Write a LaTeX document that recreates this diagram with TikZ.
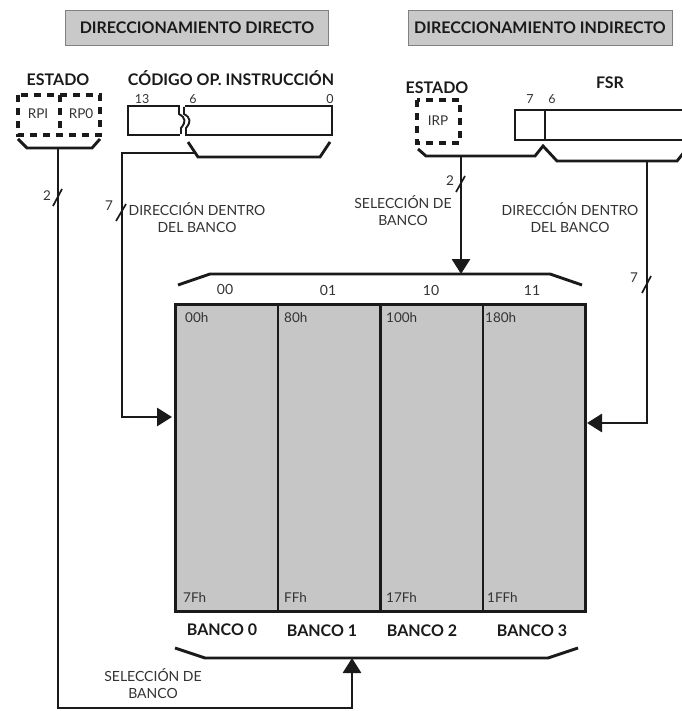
\documentclass[tikz,border=0pt]{standalone}
\usepackage{fontspec}
\setmainfont{Lato}
\usetikzlibrary{arrows.meta}
\definecolor{cellgray}{HTML}{C6C6C6}
\definecolor{titlegray}{HTML}{C9C9C9}
\definecolor{ink}{HTML}{1A1A1A}
\definecolor{soft}{HTML}{333333}
\begin{document}
\begin{tikzpicture}[x=1pt,y=-1pt,
  wire/.style={line width=2.9pt, draw=ink, line join=miter},
  arr/.style={wire,-{Triangle[length=15pt,width=18pt]}},
  tick/.style={line width=1.7pt, draw=ink},
  dbox/.style={line width=3.2pt, draw=ink, dash pattern=on 7pt off 6pt},
  titlebox/.style={draw=gray, line width=0.6pt, fill=titlegray, minimum height=35pt, inner sep=0pt, text=ink, font=\bfseries\fontsize{16}{18}\selectfont},
  head/.style={text=ink, inner sep=0pt, font=\bfseries\fontsize{16}{18}\selectfont},
  lab/.style={text=soft, inner sep=0pt, align=center, font=\fontsize{14}{17}\selectfont},
  small/.style={text=soft, inner sep=0pt, font=\fontsize{12.5}{14}\selectfont},
  reg/.style={text=soft, inner sep=0pt, font=\fontsize{13.5}{15}\selectfont},
  num/.style={text=soft, inner sep=0pt, font=\fontsize{14}{16}\selectfont},
  slashnum/.style={text=soft, inner sep=0pt, font=\fontsize{13.5}{15}\selectfont},
  addr/.style={text=soft, inner sep=0pt, anchor=west, font=\fontsize{13.5}{15}\selectfont},
  cell/.style={draw=ink, line width=2.9pt, fill=cellgray, minimum width=102.5pt, minimum height=307pt, anchor=north west, inner sep=0pt},
  bank/.style={text=ink, inner sep=0pt, font=\bfseries\fontsize{16}{18}\selectfont}
]
\useasboundingbox (0,0) rectangle (681,711);

% titles
\node[titlebox, minimum width=263pt] (t1) at (197,27.5) {DIRECCIONAMIENTO DIRECTO};
\node[titlebox, minimum width=264pt] (t2) at (540,27.5) {DIRECCIONAMIENTO INDIRECTO};

% ---- direct addressing ----
\node[head] (estado1) at (58,80) {ESTADO};
\draw[dbox] (18,95) rectangle (100,135);
\draw[dbox] (60,95) -- (60,135);
\node[reg] (rp1) at (38,114) {RPI};
\node[reg] (rp0) at (81,114) {RP0};
\draw[wire] (18,139) -- (27,148) -- (92,148) -- (100,139);
\coordinate (estL) at (58,148);

\node[head] (codigo) at (231,78) {CÓDIGO OP. INSTRUCCIÓN};
\node[small] (n13) at (142,99) {13};
\node[small] (n6a) at (193,99) {6};
\node[small] (n0) at (330,99) {0};
\draw[wire] (128,106) rectangle (332,135);
\fill[white] (180,104) rectangle (185,137);
\draw[tick, line width=1.9pt] (179,107) -- (179,114) .. controls (186,118) and (186,122) .. (181,128) -- (181,134);
\draw[tick, line width=1.9pt] (184,107) -- (184,114) .. controls (191,118) and (191,122) .. (186,128) -- (186,134);
\draw[wire] (188,142) -- (198,157) -- (320,157) -- (330,142);
\coordinate (opb) at (195,153);

% memory
\node[cell] (c0) at (174,303) {};
\node[cell] (c1) at (276.5,303) {};
\node[cell] (c2) at (379,303) {};
\node[cell] (c3) at (481.5,303) {};

\node[addr] (a00) at (185,318) {00h};
\node[addr] (a80) at (284,318) {80h};
\node[addr] (a100) at (386,318) {100h};
\node[addr] (a180) at (485,318) {180h};
\node[addr] (a7f) at (183,598) {7Fh};
\node[addr] (aff) at (284,598) {FFh};
\node[addr] (a17f) at (386,598) {17Fh};
\node[addr] (a1ff) at (487,598) {1FFh};

\node[num] (k00) at (225,289) {00};
\node[num] (k01) at (328,290) {01};
\node[num] (k10) at (431,290) {10};
\node[num] (k11) at (532,290) {11};

\node[bank] (b0) at (222,630) {BANCO 0};
\node[bank] (b1) at (322,631) {BANCO 1};
\node[bank] (b2) at (422,631) {BANCO 2};
\node[bank] (b3) at (532,631) {BANCO 3};

% top bracket
\draw[wire] (178,285) -- (210,274) -- (550,274) -- (582,285);
\coordinate (tbr) at (461,274);
% bottom bracket
\draw[wire] (175,648) -- (205,658) -- (548,658) -- (578,648);
\coordinate (bbr) at (352,658);

% left connectors
\coordinate (inL) at (172,417);
\draw[arr] (opb) -- (122,153) -- (122,417) -- (inL);
\draw[tick] (116,221) -- (126,204);
\node[slashnum] (l7a) at (109,206) {7};
\node[lab] (dirL) at (197,218) {DIRECCIÓN DENTRO\\DEL BANCO};

\draw[arr] (estL) -- (58,708) -- (352,708) -- (bbr);
\draw[tick] (53,206) -- (62,189);
\node[slashnum] (l2a) at (47,196) {2};
\node[lab] (selL) at (153,684) {SELECCIÓN DE\\BANCO};

% ---- indirect addressing ----
\node[head] (estado2) at (437,88) {ESTADO};
\draw[dbox] (417,100) rectangle (460,143);
\node[reg] (irp) at (438,121) {IRP};
\node[head] (fsr) at (610,83) {FSR};
\node[small] (n7) at (530,99) {7};
\node[small] (n6b) at (552,99) {6};
\draw[wire] (684,110) -- (515,110) -- (515,140) -- (684,140);
\draw[wire] (545,110) -- (545,140);
\draw[wire] (418,149) -- (426,156) -- (535,156) -- (543,146) -- (557,161) -- (677,161) -- (685,151);
\coordinate (irpb) at (461,156);
\coordinate (fsrb) at (647,161);

\draw[arr] (irpb) -- (tbr);
\draw[tick] (456,192) -- (465,176);
\node[slashnum] (l2b) at (450,181) {2};
\node[lab] (selR) at (403,211) {SELECCIÓN DE\\BANCO};

\coordinate (inR) at (587,423);
\draw[arr] (fsrb) -- (647,423) -- (inR);
\draw[tick] (642,293) -- (651,276);
\node[slashnum] (l7b) at (634,278) {7};
\node[lab] (dirR) at (570,218) {DIRECCIÓN DENTRO\\DEL BANCO};
\end{tikzpicture}
\end{document}
